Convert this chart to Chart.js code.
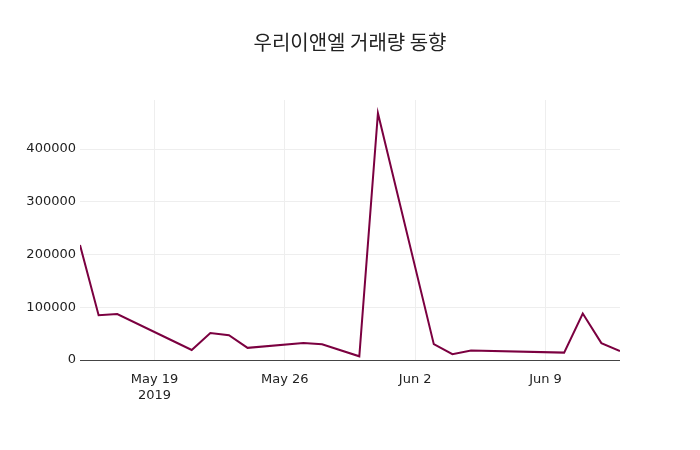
<!DOCTYPE html>
<html>
<head>
<meta charset="utf-8">
<script src="https://cdn.jsdelivr.net/npm/chart.js@4"></script>
<style>
  body { margin: 0; background: #fff; }
  #wrap { width: 700px; height: 450px; }
</style>
</head>
<body>
<div id="wrap"><canvas id="chart"></canvas></div>
<script>
const titleText = '우리이앤엘 거래량 동향';
const dates = ['2019-05-15', '2019-05-16', '2019-05-17', '2019-05-20', '2019-05-21', '2019-05-22',
    '2019-05-23', '2019-05-24', '2019-05-27', '2019-05-28', '2019-05-30', '2019-05-31',
    '2019-06-03', '2019-06-04', '2019-06-05', '2019-06-10', '2019-06-11', '2019-06-12', '2019-06-13'];
const volumes = [218000, 85000, 87000, 36000, 19000, 51000,
    47000, 23000, 32000, 30000, 7000, 468000,
    30000, 11000, 18000, 14000, 88000, 32000, 17000];
const tickDates = ['2019-05-19', '2019-05-26', '2019-06-02', '2019-06-09'];
const tickLabels = [['May 19', '2019'], 'May 26', 'Jun 2', 'Jun 9'];
const yTicks = [0, 100000, 200000, 300000, 400000];

const base = Date.UTC(2019, 4, 15);
const toDay = s => (Date.parse(s + 'T00:00:00Z') - base) / 86400000;
const tickDays = tickDates.map(toDay);

const titlePlugin = {
    id: 'titleText',
    afterDraw(chart) {
        const ctx = chart.ctx;
        ctx.save();
        ctx.font = '20px "Noto Sans CJK KR", sans-serif';
        ctx.fillStyle = '#222';
        ctx.textAlign = 'center';
        ctx.textBaseline = 'middle';
        ctx.fillText(titleText, 350, 42);
        ctx.restore();
    }
};

new Chart(document.getElementById('chart'), {
    type: 'line',
    data: {
        datasets: [{
            data: dates.map((d, i) => ({ x: toDay(d), y: volumes[i] })),
            borderColor: '#7b0040',
            borderWidth: 2,
            pointRadius: 0,
            tension: 0,
            fill: false
        }]
    },
    options: {
        responsive: true,
        maintainAspectRatio: false,
        animation: false,
        layout: { padding: { top: 100, right: 80, left: 0, bottom: 0 } },
        plugins: { legend: { display: false }, tooltip: { enabled: false } },
        scales: {
            x: {
                type: 'linear',
                min: 0,
                max: toDay('2019-06-13'),
                afterBuildTicks: axis => { axis.ticks = tickDays.map(v => ({ value: v })); },
                afterFit: axis => { axis.height = 90; },
                ticks: {
                    autoSkip: false,
                    maxRotation: 0,
                    color: '#222',
                    padding: 12,
                    font: { family: 'DejaVu Sans', size: 13 },
                    callback: v => tickLabels[tickDays.indexOf(v)]
                },
                grid: { color: '#eee', drawTicks: false },
                border: { display: false }
            },
            y: {
                min: 0,
                max: 493000,
                afterBuildTicks: axis => { axis.ticks = yTicks.map(v => ({ value: v })); },
                afterFit: axis => { axis.width = 80; },
                ticks: {
                    color: '#222',
                    font: { family: 'DejaVu Sans', size: 13 },
                    padding: 4,
                    callback: v => String(v)
                },
                grid: {
                    color: ctx => ctx.tick && ctx.tick.value === 0 ? '#444' : '#eee',
                    drawTicks: false
                },
                border: { display: false }
            }
        }
    },
    plugins: [titlePlugin]
});
</script>
</body>
</html>
